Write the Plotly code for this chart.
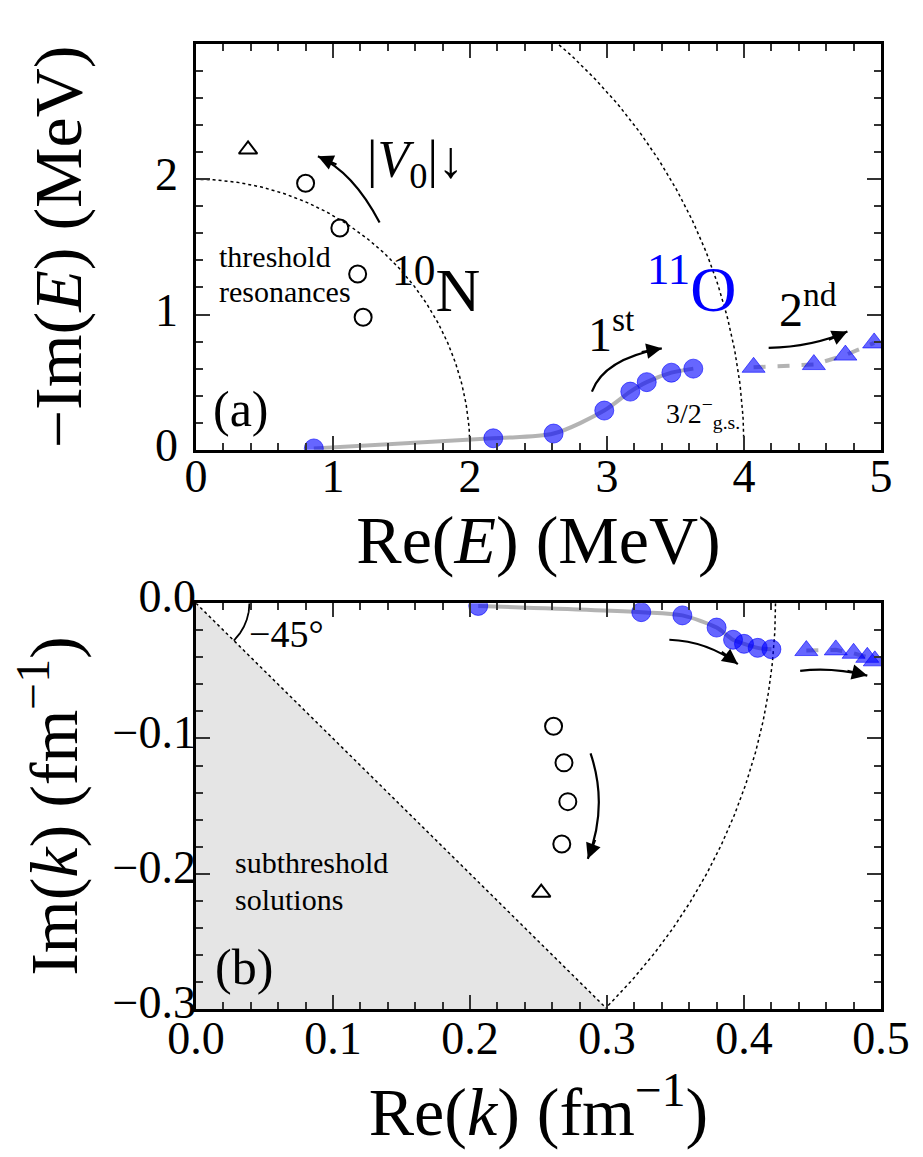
import numpy as np
import plotly.graph_objects as go

# ---------------- data: panel (a) complex energy plane ----------------
re_E_1st = [0.86, 2.17, 2.61, 2.98, 3.17, 3.29, 3.47, 3.63]
im_E_1st = [0.01, 0.085, 0.12, 0.29, 0.43, 0.50, 0.57, 0.60]
re_E_2nd = [4.07, 4.51, 4.74, 4.95]
im_E_2nd = [0.61, 0.63, 0.70, 0.79]
re_E_thr = [0.80, 1.05, 1.18, 1.22]
im_E_thr = [1.97, 1.64, 1.30, 0.98]
re_E_tri = [0.38]
im_E_tri = [2.22]
E_radii = [2.0, 4.0]

# ---------------- data: panel (b) complex momentum plane ----------------
re_k_1st = [0.206, 0.325, 0.355, 0.380, 0.392, 0.400, 0.410, 0.420]
im_k_1st = [-0.002, -0.0066, -0.009, -0.018, -0.027, -0.030, -0.033, -0.034]
re_k_2nd = [0.4455, 0.467, 0.480, 0.490, 0.4955]
im_k_2nd = [-0.035, -0.0345, -0.037, -0.040, -0.0426]
re_k_sub = [0.261, 0.2686, 0.2714, 0.267]
im_k_sub = [-0.091, -0.118, -0.1467, -0.178]
re_k_tri = [0.252]
im_k_tri = [-0.214]
k_radius = 0.423
k_angle_marker = 0.039

FONT = "Liberation Serif"
BLUE = "rgba(0,0,255,0.6)"
GRAY = "rgba(128,128,128,0.6)"

W, H = 923, 1157
ML, MR, MT, MB = 196, 42, 34, 148
TOP_DOM = [0.5795, 1.0]
BOT_DOM = [0.0, 0.4205]
X_RANGE_E, Y_RANGE_E = [0, 5], [0, 3]
X_RANGE_K, Y_RANGE_K = [0, 0.5], [-0.3, 0]

fig = go.Figure()

# ---- panel (a) ----
for r in E_radii:
    th = np.linspace(0, np.pi / 2, 200)
    fig.add_trace(go.Scatter(x=r * np.cos(th), y=r * np.sin(th), mode="lines",
                             line=dict(color="black", width=1.5, dash="dot"),
                             xaxis="x", yaxis="y", showlegend=False, hoverinfo="skip"))
fig.add_trace(go.Scatter(x=re_E_1st, y=im_E_1st, mode="lines",
                         line=dict(color=GRAY, width=4, shape="spline", smoothing=0.8),
                         xaxis="x", yaxis="y", showlegend=False))
fig.add_trace(go.Scatter(x=re_E_2nd, y=im_E_2nd, mode="lines",
                         line=dict(color=GRAY, width=4, dash="dash"),
                         xaxis="x", yaxis="y", showlegend=False))
fig.add_trace(go.Scatter(x=re_E_1st, y=im_E_1st, mode="markers",
                         marker=dict(symbol="circle", size=19, color=BLUE,
                                     line=dict(color=BLUE, width=1)),
                         xaxis="x", yaxis="y", showlegend=False))
fig.add_trace(go.Scatter(x=re_E_2nd, y=im_E_2nd, mode="markers",
                         marker=dict(symbol="triangle-up", size=20, color=BLUE,
                                     line=dict(color=BLUE, width=1)),
                         xaxis="x", yaxis="y", showlegend=False))
fig.add_trace(go.Scatter(x=re_E_thr, y=im_E_thr, mode="markers",
                         marker=dict(symbol="circle-open", size=17, color="black",
                                     line=dict(width=2)),
                         xaxis="x", yaxis="y", showlegend=False))
fig.add_trace(go.Scatter(x=re_E_tri, y=im_E_tri, mode="markers",
                         marker=dict(symbol="triangle-up-open", size=16, color="black",
                                     line=dict(width=2)),
                         xaxis="x", yaxis="y", showlegend=False))

# ---- panel (b) ----
ymin_k = Y_RANGE_K[0]
th = np.linspace(0, -np.pi / 4, 200)
fig.add_trace(go.Scatter(x=k_radius * np.cos(th), y=k_radius * np.sin(th), mode="lines",
                         line=dict(color="black", width=1.5, dash="dot"),
                         xaxis="x2", yaxis="y2", showlegend=False, hoverinfo="skip"))
fig.add_trace(go.Scatter(x=[0, -ymin_k], y=[0, ymin_k], mode="lines",
                         line=dict(color="black", width=1.5, dash="dot"),
                         xaxis="x2", yaxis="y2", showlegend=False, hoverinfo="skip"))
fig.add_trace(go.Scatter(x=k_angle_marker * np.cos(th), y=k_angle_marker * np.sin(th),
                         mode="lines", line=dict(color="black", width=1.8),
                         xaxis="x2", yaxis="y2", showlegend=False, hoverinfo="skip"))
fig.add_trace(go.Scatter(x=re_k_1st, y=im_k_1st, mode="lines",
                         line=dict(color=GRAY, width=4, shape="spline", smoothing=0.8),
                         xaxis="x2", yaxis="y2", showlegend=False))
fig.add_trace(go.Scatter(x=re_k_2nd, y=im_k_2nd, mode="lines",
                         line=dict(color=GRAY, width=4, dash="dash"),
                         xaxis="x2", yaxis="y2", showlegend=False))
fig.add_trace(go.Scatter(x=re_k_1st, y=im_k_1st, mode="markers",
                         marker=dict(symbol="circle", size=19, color=BLUE,
                                     line=dict(color=BLUE, width=1)),
                         xaxis="x2", yaxis="y2", showlegend=False))
fig.add_trace(go.Scatter(x=re_k_2nd, y=im_k_2nd, mode="markers",
                         marker=dict(symbol="triangle-up", size=20, color=BLUE,
                                     line=dict(color=BLUE, width=1)),
                         xaxis="x2", yaxis="y2", showlegend=False))
fig.add_trace(go.Scatter(x=re_k_sub, y=im_k_sub, mode="markers",
                         marker=dict(symbol="circle-open", size=17, color="black",
                                     line=dict(width=2)),
                         xaxis="x2", yaxis="y2", showlegend=False))
fig.add_trace(go.Scatter(x=re_k_tri, y=im_k_tri, mode="markers",
                         marker=dict(symbol="triangle-up-open", size=16, color="black",
                                     line=dict(width=2)),
                         xaxis="x2", yaxis="y2", showlegend=False))

shapes = [dict(type="path", xref="x2", yref="y2",
               path=f"M 0,0 L {-ymin_k},{ymin_k} L 0,{ymin_k} Z",
               fillcolor="#e5e5e5", line=dict(width=0), layer="below")]

# pixel scales of both panels (to orient arrowheads)
plot_w = W - ML - MR
plot_h = H - MT - MB
scales = {
    "": (plot_w / (X_RANGE_E[1] - X_RANGE_E[0]),
         plot_h * (TOP_DOM[1] - TOP_DOM[0]) / (Y_RANGE_E[1] - Y_RANGE_E[0])),
    "2": (plot_w / (X_RANGE_K[1] - X_RANGE_K[0]),
          plot_h * (BOT_DOM[1] - BOT_DOM[0]) / (Y_RANGE_K[1] - Y_RANGE_K[0])),
}

# curved arrows: (axis, start, control, end)
arrows = [
    ("", (1.34, 1.68), (1.145, 2.055), (0.89, 2.17)),
    ("", (2.89, 0.43), (2.975, 0.67), (3.40, 0.75)),
    ("", (4.18, 0.753), (4.50, 0.76), (4.755, 0.874)),
    ("2", (0.288, -0.111), (0.301, -0.150), (0.286, -0.189)),
    ("2", (0.3455, -0.027), (0.373, -0.028), (0.3955, -0.045)),
    ("2", (0.441, -0.050), (0.4635, -0.047), (0.490, -0.0535)),
]
annotations = []
for ax_id, p0, pc, p1 in arrows:
    shapes.append(dict(type="path", xref="x" + ax_id, yref="y" + ax_id,
                       path=f"M {p0[0]},{p0[1]} Q {pc[0]},{pc[1]} {p1[0]},{p1[1]}",
                       line=dict(color="black", width=2.2)))
    sx, sy = scales[ax_id]
    dxp = (p1[0] - pc[0]) * sx
    dyp = -(p1[1] - pc[1]) * sy
    n = (dxp ** 2 + dyp ** 2) ** 0.5
    L = 22
    annotations.append(dict(xref="x" + ax_id, yref="y" + ax_id,
                            x=p1[0], y=p1[1], ax=-dxp / n * L, ay=-dyp / n * L,
                            text="", showarrow=True, arrowhead=2, arrowsize=1.4,
                            arrowwidth=2.2, arrowcolor="black", standoff=0))


def txt(ax_id, x, y, text, size, color="black", xanchor="center"):
    annotations.append(dict(xref="x" + ax_id, yref="y" + ax_id, x=x, y=y, text=text,
                            showarrow=False, xanchor=xanchor, yanchor="middle",
                            font=dict(family=FONT, size=size, color=color)))


txt("", 0.33, 0.30, "(a)", 50)
txt("", 0.15, 1.43, "threshold", 30, xanchor="left")
txt("", 0.15, 1.17, "resonances", 30, xanchor="left")
txt("", 1.75, 1.22, "<sup>10</sup>N", 62)
txt("", 3.62, 1.22, "<sup>11</sup>O", 64, color="blue")
txt("", 1.60, 2.12, "|<i>V</i><sub>0</sub>|↓", 52)
txt("", 3.03, 0.88, "1<sup>st</sup>", 48)
txt("", 4.47, 1.06, "2<sup>nd</sup>", 48)
txt("", 3.70, 0.27, "3/2<sup>−</sup><sub>g.s.</sub>", 28)
txt("2", 0.066, -0.023, "−45°", 38)
txt("2", 0.027, -0.192, "subthreshold", 30, xanchor="left")
txt("2", 0.027, -0.219, "solutions", 30, xanchor="left")
txt("2", 0.035, -0.269, "(b)", 50)

tickfont = dict(family=FONT, size=46, color="black")
titlefont = dict(family=FONT, size=68, color="black")
common = dict(showline=True, linecolor="black", linewidth=2.5, mirror="allticks",
              ticks="inside", ticklen=14, tickwidth=1.5, tickcolor="#333",
              showgrid=False, zeroline=False, tickfont=tickfont)


def minor(d):
    return dict(ticks="inside", ticklen=7, tickwidth=1.5, tickcolor="#333",
                dtick=d, tick0=0, showgrid=False)


fig.update_layout(
    width=W, height=H,
    margin=dict(l=ML, r=MR, t=MT, b=MB),
    paper_bgcolor="white", plot_bgcolor="white",
    showlegend=False,
    shapes=shapes, annotations=annotations,
    xaxis=dict(domain=[0, 1], anchor="y", range=X_RANGE_E, tickvals=[0, 1, 2, 3, 4, 5],
               minor=minor(0.2), ticklabelstandoff=-16,
               title=dict(text="Re(<i>E</i>) (MeV)", font=titlefont, standoff=0), **common),
    yaxis=dict(domain=TOP_DOM, anchor="x", range=Y_RANGE_E, tickvals=[0, 1, 2],
               minor=minor(0.2), ticklabelstandoff=6, ticklabelshift=-5,
               title=dict(text="−Im(<i>E</i>) (MeV)", font=titlefont, standoff=52), **common),
    xaxis2=dict(domain=[0, 1], anchor="y2", range=X_RANGE_K, dtick=0.1, tick0=0,
                tickformat=".1f", minor=minor(0.02), ticklabelstandoff=-13,
                title=dict(text="Re(<i>k</i>) (fm<sup>−1</sup>)", font=titlefont, standoff=0),
                **common),
    yaxis2=dict(domain=BOT_DOM, anchor="x2", range=Y_RANGE_K, dtick=0.1, tick0=0,
                tickformat=".1f", minor=minor(0.02), ticklabelstandoff=-12, ticklabelshift=-7,
                title=dict(text="Im(<i>k</i>) (fm<sup>−1</sup>)", font=titlefont, standoff=13),
                **common),
)

fig.write_html("out.html")
